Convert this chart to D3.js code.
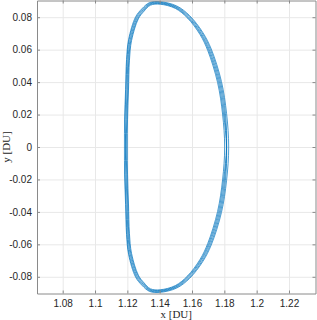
<!DOCTYPE html>
<html>
<head>
<meta charset="utf-8">
<script src="https://cdn.jsdelivr.net/npm/d3@7"></script>
<style>
  body { margin: 0; background: #fff; }
  svg { display: block; }
</style>
</head>
<body>
<div id="orbit"></div>
<script>
// tick values / labels
const xTicks = [1.08, 1.1, 1.12, 1.14, 1.16, 1.18, 1.2, 1.22];
const xTickLabels = ["1.08", "1.1", "1.12", "1.14", "1.16", "1.18", "1.2", "1.22"];
const yTicks = [-0.08, -0.06, -0.04, -0.02, 0, 0.02, 0.04, 0.06, 0.08];
const yTickLabels = ["-0.08", "-0.06", "-0.04", "-0.02", "0", "0.02", "0.04", "0.06", "0.08"];

// the orbit, several revolutions (each closed), clockwise from the top
const rev1X = [1.1402, 1.1500, 1.1578, 1.1657, 1.1708, 1.1770, 1.1801, 1.1814, 1.1801, 1.1770, 1.1708, 1.1657, 1.1578, 1.1500, 1.1402,
               1.1340, 1.1297, 1.1260, 1.1217, 1.1204, 1.1198, 1.1192, 1.1191, 1.1192, 1.1198, 1.1204, 1.1217, 1.1260, 1.1297, 1.1340];
const rev1Y = [0.0888, 0.0862, 0.0802, 0.0700, 0.0598, 0.0401, 0.0204, 0, -0.0204, -0.0401, -0.0598, -0.0700, -0.0802, -0.0862, -0.0888,
               -0.0882, -0.0845, -0.0796, -0.0660, -0.0537, -0.0352, -0.0167, 0, 0.0167, 0.0352, 0.0537, 0.0660, 0.0796, 0.0845, 0.0882];

const rev2X = [1.1401, 1.1504, 1.1585, 1.1666, 1.1719, 1.1782, 1.1814, 1.1827, 1.1814, 1.1782, 1.1719, 1.1666, 1.1585, 1.1504, 1.1401,
               1.1337, 1.1290, 1.1251, 1.1208, 1.1195, 1.1189, 1.1183, 1.1182, 1.1183, 1.1189, 1.1195, 1.1208, 1.1251, 1.1290, 1.1337];
const rev2Y = [0.0896, 0.0870, 0.0810, 0.0707, 0.0604, 0.0404, 0.0205, 0, -0.0205, -0.0404, -0.0604, -0.0707, -0.0810, -0.0870, -0.0896,
               -0.0890, -0.0852, -0.0802, -0.0664, -0.0539, -0.0353, -0.0167, 0, 0.0167, 0.0353, 0.0539, 0.0664, 0.0802, 0.0852, 0.0890];

const rev3X = [1.1403, 1.1497, 1.1572, 1.1649, 1.1698, 1.1758, 1.1789, 1.1802, 1.1789, 1.1758, 1.1698, 1.1649, 1.1572, 1.1497, 1.1403,
               1.1343, 1.1304, 1.1268, 1.1226, 1.1213, 1.1207, 1.1201, 1.1200, 1.1201, 1.1207, 1.1213, 1.1226, 1.1268, 1.1304, 1.1343];
const rev3Y = [0.0880, 0.0854, 0.0795, 0.0694, 0.0593, 0.0398, 0.0203, 0, -0.0203, -0.0398, -0.0593, -0.0694, -0.0795, -0.0854, -0.0880,
               -0.0874, -0.0838, -0.0790, -0.0656, -0.0535, -0.0351, -0.0167, 0, 0.0167, 0.0351, 0.0535, 0.0656, 0.0790, 0.0838, 0.0874];

const rev4X = [1.1401, 1.1502, 1.1582, 1.1662, 1.1714, 1.1776, 1.1807, 1.1814, 1.1795, 1.1764, 1.1703, 1.1653, 1.1575, 1.1498, 1.1403,
               1.1341, 1.1301, 1.1265, 1.1222, 1.1209, 1.1203, 1.1197, 1.1191, 1.1186, 1.1192, 1.1198, 1.1211, 1.1255, 1.1293, 1.1338];
const rev4Y = [0.0892, 0.0866, 0.0806, 0.0704, 0.0601, 0.0403, 0.0205, 0, -0.0203, -0.0399, -0.0595, -0.0697, -0.0798, -0.0858, -0.0884,
               -0.0878, -0.0841, -0.0793, -0.0658, -0.0536, -0.0351, -0.0167, 0, 0.0167, 0.0353, 0.0538, 0.0662, 0.0799, 0.0849, 0.0886];

const rev5X = [1.1403, 1.1498, 1.1575, 1.1653, 1.1703, 1.1764, 1.1795, 1.1814, 1.1807, 1.1776, 1.1714, 1.1662, 1.1582, 1.1502, 1.1401,
               1.1338, 1.1293, 1.1255, 1.1211, 1.1198, 1.1192, 1.1186, 1.1191, 1.1197, 1.1203, 1.1209, 1.1222, 1.1265, 1.1301, 1.1341];
const rev5Y = [0.0884, 0.0858, 0.0798, 0.0697, 0.0595, 0.0399, 0.0203, 0, -0.0205, -0.0403, -0.0601, -0.0704, -0.0806, -0.0866, -0.0892,
               -0.0886, -0.0849, -0.0799, -0.0662, -0.0538, -0.0353, -0.0167, 0, 0.0167, 0.0351, 0.0536, 0.0658, 0.0793, 0.0841, 0.0878];

const revolutions = [
  [rev1X, rev1Y], [rev2X, rev2Y], [rev3X, rev3Y], [rev4X, rev4Y], [rev5X, rev5Y]
];

let width = 317, height = 320;
let margin = { top: 0.5, bottom: 26.5, right: 1.5, left: 37 };
let w = width - margin.left - margin.right;
let h = height - margin.top - margin.bottom;

let svg = d3.select("#orbit")
  .append("svg")
  .attr("width", width)
  .attr("height", height)
  .append("g")
  .attr("transform", `translate(${margin.left}, ${margin.top})`);

let xscale = d3.scaleLinear().domain([1.0641, 1.2364]).range([0, w]);
let yscale = d3.scaleLinear().domain([-0.0903, 0.0903]).range([h, 0]);

// grid
svg.append("g")
  .attr("transform", `translate(0, ${h})`)
  .call(d3.axisBottom(xscale).tickValues(xTicks).tickSize(-h).tickFormat(""))
  .call(g => g.select(".domain").remove())
  .selectAll("line").attr("stroke", "#e8e8e8");

svg.append("g")
  .call(d3.axisLeft(yscale).tickValues(yTicks).tickSize(-w).tickFormat(""))
  .call(g => g.select(".domain").remove())
  .selectAll("line").attr("stroke", "#e8e8e8");

// orbit
let line = d3.line()
  .x(d => xscale(d[0]))
  .y(d => yscale(d[1]))
  .curve(d3.curveCatmullRomClosed.alpha(0.5));

revolutions.forEach(function (rev) {
  let pts = rev[0].map((x, i) => [x, rev[1][i]]);
  svg.append("path")
    .datum(pts)
    .attr("d", line)
    .attr("fill", "none")
    .attr("stroke", "#0072BD")
    .attr("stroke-width", 0.7);
});

// axes, MATLAB box with inward ticks
const axisColor = "#8a8a8a";
const tickFont = "'Liberation Sans', Arial, Helvetica, sans-serif";

let xaxis = svg.append("g")
  .attr("transform", `translate(0, ${h})`)
  .call(d3.axisBottom(xscale).tickValues(xTicks)
    .tickFormat((d, i) => xTickLabels[i]).tickSize(-3).tickSizeOuter(0).tickPadding(6));

let yaxis = svg.append("g")
  .call(d3.axisLeft(yscale).tickValues(yTicks)
    .tickFormat((d, i) => yTickLabels[i]).tickSize(-3).tickSizeOuter(0).tickPadding(5));

let xaxisTop = svg.append("g")
  .call(d3.axisTop(xscale).tickValues(xTicks).tickFormat("").tickSize(-3).tickSizeOuter(0));

let yaxisRight = svg.append("g")
  .attr("transform", `translate(${w}, 0)`)
  .call(d3.axisRight(yscale).tickValues(yTicks).tickFormat("").tickSize(-3).tickSizeOuter(0));

[xaxis, yaxis, xaxisTop, yaxisRight].forEach(function (ax) {
  ax.selectAll("path, line").attr("stroke", axisColor);
  ax.selectAll("text")
    .attr("fill", "#262626")
    .style("font-family", tickFont)
    .style("font-size", "10px");
});

svg.append("text")
  .attr("x", w / 2)
  .attr("y", h + 24)
  .attr("text-anchor", "middle")
  .style("font-family", "'Liberation Serif', 'DejaVu Serif', serif")
  .style("font-size", "11px")
  .attr("fill", "#262626")
  .text("x [DU]");

svg.append("text")
  .attr("transform", `translate(${-27}, ${h / 2}) rotate(-90)`)
  .attr("text-anchor", "middle")
  .style("font-family", "'Liberation Serif', 'DejaVu Serif', serif")
  .style("font-size", "11px")
  .attr("fill", "#262626")
  .text("y [DU]");
</script>
</body>
</html>
